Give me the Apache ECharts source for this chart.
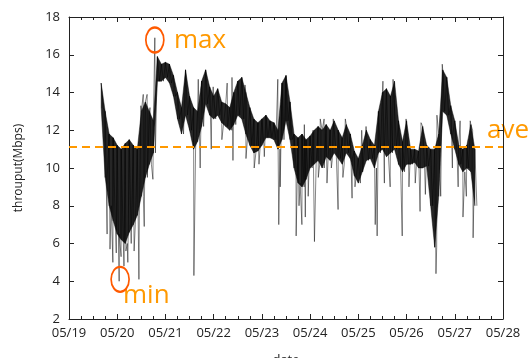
<!DOCTYPE html>
<html>
<head>
<meta charset="utf-8">
<script src="https://cdn.jsdelivr.net/npm/echarts@6/dist/echarts.min.js"></script>
<style>
  html, body { margin: 0; padding: 0; background: #fff; }
  #main { width: 531px; height: 358px; }
</style>
</head>
<body>
<div id="main"></div>
<script>
// 2-hour buckets starting 05/19 16:00, upper / lower edge of the dense trace
var startDay = 19 + 16 / 24;
var stepDays = 2 / 24;
var hi = [
  14.5, 13.0, 11.8, 11.6, 11.2, 11.0, 11.3, 11.5, 11.2, 11.0,
  13.0, 13.5, 13.0, 12.5, 15.9, 15.5, 15.6, 15.5, 14.9, 14.0,
  13.2, 15.2, 13.8, 13.2, 13.0, 14.6, 15.2, 14.3, 13.8, 14.2,
  13.5, 13.4, 13.2, 14.0, 14.6, 14.8, 14.0, 13.2, 12.6, 12.4,
  12.6, 12.8, 12.5, 12.4, 12.0, 14.5, 14.9, 13.5, 11.8, 11.6,
  11.8, 11.5, 11.7, 12.0, 12.2, 12.0, 12.3, 12.0, 12.5, 12.0,
  11.6, 12.3, 11.8, 10.9, 10.5, 11.2, 12.0, 11.5, 11.2, 13.0,
  14.0, 14.2, 13.8, 14.6, 12.5, 11.4, 12.5, 11.0, 11.0, 10.9,
  12.2, 11.2, 11.0, 11.0, 11.8, 15.2, 14.8, 13.3, 12.5, 11.2,
  11.0, 11.2, 12.3, 11.0
];
var lo = [
  13.2, 9.5, 8.0, 7.2, 6.5, 6.2, 6.0, 6.6, 7.0, 7.5,
  8.5, 9.5, 10.2, 10.8, 14.6, 14.6, 14.8, 14.5, 13.8, 12.6,
  11.8, 12.8, 12.0, 11.0, 11.4, 12.2, 13.4, 12.8, 12.6, 12.8,
  12.4, 12.2, 12.0, 12.3, 12.8, 12.6, 11.8, 11.2, 10.8, 10.9,
  11.2, 11.6, 11.6, 11.5, 11.0, 11.5, 12.5, 11.5, 10.0, 9.2,
  9.0, 9.4, 10.0, 10.2, 10.4, 10.0, 10.6, 10.4, 10.8, 10.5,
  10.2, 10.8, 10.5, 9.6, 9.2, 9.8, 10.4, 10.5, 10.0, 10.8,
  11.0, 10.6, 10.8, 11.0, 10.2, 9.8, 10.2, 10.2, 10.3, 10.0,
  10.0, 10.1, 8.0, 5.8, 8.5, 13.0, 12.8, 11.8, 11.0, 10.2,
  9.8, 10.0, 9.8, 8.0
];
// short isolated excursions (day of May, Mbps)
var spikeDay = [
  19.79, 19.85, 19.91, 19.98, 20.04, 20.08, 20.14, 20.18, 20.22, 20.29,
  20.35, 20.39, 20.45, 20.49, 20.54, 20.56, 20.62, 20.68, 20.74, 20.78,
  21.59, 21.68, 21.72, 21.95, 21.99, 22.17, 22.28, 22.38, 22.40, 22.65,
  22.67, 22.84, 22.94, 23.05, 23.33, 23.35, 23.38, 23.71, 23.77, 23.83,
  23.88, 23.90, 23.96, 24.06, 24.09, 24.17, 24.21, 24.29, 24.35, 24.44,
  24.48, 24.58, 24.68, 24.73, 24.87, 24.93, 25.07, 25.09, 25.16, 25.35,
  25.39, 25.51, 25.54, 25.62, 25.66, 25.72, 25.91, 25.99, 26.05, 26.18,
  26.28, 26.30, 26.39, 26.61, 26.63, 26.74, 26.95, 27.07, 27.11, 27.17,
  27.24, 27.32, 27.37, 27.38
];
var spikeVal = [
  6.5, 5.7, 5.0, 5.5, 4.0, 5.3, 4.8, 5.6, 5.0, 6.0,
  5.6, 7.0, 4.1, 13.3, 13.9, 6.9, 13.9, 13.2, 9.4, 16.9,
  4.3, 14.7, 10.0, 11.0, 14.3, 11.5, 14.5, 14.8, 10.4, 14.4,
  10.5, 10.0, 10.2, 10.6, 14.7, 7.0, 9.0, 6.4, 8.0, 7.0,
  12.3, 7.4, 8.5, 12.0, 6.1, 9.5, 12.6, 12.6, 9.2, 10.0,
  12.6, 7.8, 9.5, 12.6, 8.4, 9.0, 12.0, 9.8, 12.2, 7.0,
  6.4, 14.6, 9.2, 14.2, 9.0, 14.7, 6.4, 12.6, 9.0, 9.2,
  7.7, 12.4, 8.6, 4.4, 12.8, 15.5, 10.0, 9.0, 12.5, 7.4,
  8.5, 12.5, 12.0, 6.3
];
var aveValue = 11.15;
var maxPoint = [20.78, 16.78];
var minPoint = [20.06, 4.1];
var xTicks = ['05/19', '05/20', '05/21', '05/22', '05/23', '05/24', '05/25', '05/26', '05/27', '05/28'];

// trace: zigzag between the edges, with the excursions put in time order
var points = [];
var band = [];
for (var i = 0; i < hi.length; i++) {
  var t = startDay + i * stepDays;
  points.push([t, hi[i]]);
  points.push([t + stepDays / 2, lo[i]]);
  if (i < hi.length - 1) {
    band.push([t, hi[i], lo[i], t + stepDays, hi[i + 1], lo[i + 1]]);
  }
}
for (var j = 0; j < spikeDay.length; j++) {
  points.push([spikeDay[j], spikeVal[j]]);
}
points.sort(function (a, b) { return a[0] - b[0]; });

var font = 'Open Sans';
var myChart = echarts.init(document.getElementById('main'));

var option = {
  backgroundColor: '#fff',
  animation: false,
  grid: { left: 69, right: 28, top: 17, bottom: 39, containLabel: false, outerBoundsMode: 'none' },
  xAxis: [{
    type: 'value',
    min: 19, max: 28, interval: 1,
    name: 'date', nameLocation: 'middle', nameGap: 35,
    nameTextStyle: { fontFamily: font, fontSize: 13, color: '#222' },
    axisLine: { lineStyle: { color: '#222', width: 1 } },
    axisTick: { inside: true, length: 5, lineStyle: { color: '#222' } },
    minorTick: { show: true, splitNumber: 4, length: 3, lineStyle: { color: '#222' } },
    axisLabel: {
      fontFamily: font, fontSize: 13, color: '#222', margin: 8,
      formatter: function (v) { return xTicks[v - 19]; }
    },
    splitLine: { show: false }
  }, {
    type: 'value', position: 'top',
    min: 19, max: 28, interval: 1,
    axisLine: { lineStyle: { color: '#222', width: 1 } },
    axisTick: { inside: true, length: 5, lineStyle: { color: '#222' } },
    minorTick: { show: true, splitNumber: 4, length: 3, lineStyle: { color: '#222' } },
    axisLabel: { show: false },
    splitLine: { show: false }
  }],
  yAxis: [{
    type: 'value',
    min: 2, max: 18, interval: 2,
    name: 'throuput(Mbps)', nameLocation: 'middle', nameGap: 44,
    nameTextStyle: { fontFamily: font, fontSize: 12, color: '#222' },
    axisLine: { show: true, lineStyle: { color: '#222', width: 1 } },
    axisTick: { show: true, inside: true, length: 5, lineStyle: { color: '#222' } },
    axisLabel: { fontFamily: font, fontSize: 13, color: '#222', margin: 9 },
    splitLine: { show: false }
  }, {
    type: 'value', position: 'right',
    min: 2, max: 18, interval: 2,
    axisLine: { show: true, lineStyle: { color: '#222', width: 1 } },
    axisTick: { show: true, inside: true, length: 5, lineStyle: { color: '#222' } },
    axisLabel: { show: false },
    splitLine: { show: false }
  }],
  series: [{
    // dark core of the trace
    type: 'custom',
    data: band,
    silent: true,
    z: 2,
    renderItem: function (params, api) {
      var a = api.coord([api.value(0), api.value(1)]);
      var b = api.coord([api.value(3), api.value(4)]);
      var c = api.coord([api.value(3), api.value(5)]);
      var d = api.coord([api.value(0), api.value(2)]);
      return {
        type: 'polygon',
        shape: { points: [a, b, c, d] },
        style: { fill: '#000', stroke: '#000', lineWidth: 0.5, opacity: 0.85 }
      };
    }
  }, {
    type: 'line',
    data: points,
    showSymbol: false,
    symbol: 'none',
    z: 3,
    lineStyle: { color: '#000', width: 0.8, opacity: 0.6 },
    markLine: {
      silent: true,
      symbol: 'none',
      z: 5,
      label: { show: false },
      lineStyle: { color: '#FF9900', type: [8, 5], width: 2 },
      data: [{ yAxis: aveValue }]
    },
    markPoint: {
      silent: true,
      symbol: 'circle',
      symbolSize: [18, 25],
      label: { show: false },
      itemStyle: { color: 'rgba(0,0,0,0)', borderColor: '#FF5A00', borderWidth: 2 },
      data: [{ coord: maxPoint }, { coord: minPoint }]
    }
  }],
  graphic: [
    { type: 'text', left: 174, top: 28, style: { text: 'max', font: '26px "Open Sans"', fill: '#FF9900' } },
    { type: 'text', left: 123, top: 283, style: { text: 'min', font: '26px "Open Sans"', fill: '#FF9900' } },
    { type: 'text', left: 487, top: 118, style: { text: 'ave', font: '26px "Open Sans"', fill: '#FF9900' } }
  ]
};

myChart.setOption(option);
</script>
</body>
</html>
